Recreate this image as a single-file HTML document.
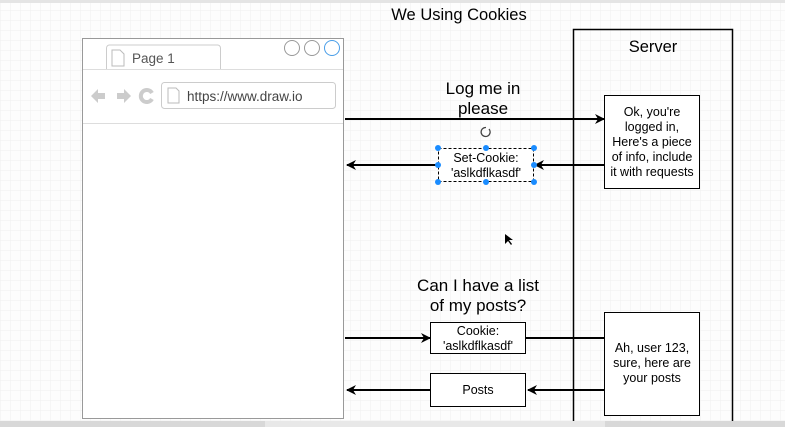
<!DOCTYPE html>
<html><head><meta charset="utf-8"><style>
html,body{margin:0;padding:0;background:#fff;}
svg{display:block;font-family:"Liberation Sans",sans-serif;}
</style></head><body>
<svg width="785" height="427" viewBox="0 0 785 427" xmlns="http://www.w3.org/2000/svg">
<defs>
<pattern id="g" width="10" height="10" patternUnits="userSpaceOnUse"><path d="M10 0H0V10" fill="none" stroke="#f0f0f0" stroke-width="1"/></pattern>
<marker id="a" markerWidth="10" markerHeight="10" refX="9" refY="5" orient="auto" markerUnits="userSpaceOnUse"><path d="M0 0L10 5L0 10L3 5Z" fill="#000"/></marker>
</defs>
<rect width="785" height="427" fill="#fdfdfd"/>
<rect width="785" height="427" fill="url(#g)"/>
<rect x="0" y="0" width="785" height="3" fill="#e4e4e4"/>
<text x="459" y="20" font-size="16.5" text-anchor="middle">We Using Cookies</text>
<rect x="82.5" y="38.5" width="261" height="380" fill="#fff" stroke="#999"/>
<path d="M106.5 69V48a3 3 0 0 1 3-3h108a3 3 0 0 1 3 3V69" fill="#fff" stroke="#ccc"/>
<line x1="83" y1="69.5" x2="343" y2="69.5" stroke="#ddd"/>
<line x1="83" y1="123.5" x2="343" y2="123.5" stroke="#ddd"/>
<path d="M112 50h8l4 4v12h-12z" fill="#fff" stroke="#bbb"/>
<text x="132" y="63" font-size="13.5" fill="#555">Page 1</text>
<circle cx="292" cy="48" r="7.5" fill="#fff" stroke="#999"/>
<circle cx="312" cy="48" r="7.5" fill="#fff" stroke="#999"/>
<circle cx="332" cy="48" r="7.5" fill="#fff" stroke="#4a9ee8"/>
<path d="M91 96l7-7v4h7v6h-7v4z" fill="#ccc"/>
<path d="M131 96l-7-7v4h-7v6h7v4z" fill="#ccc"/>
<path d="M152 93a6 6 0 1 0 0 6" fill="none" stroke="#ccc" stroke-width="4"/>
<rect x="161.5" y="82.5" width="174" height="26" rx="3" fill="#fff" stroke="#ccc"/>
<path d="M168 88h8l3 3v12h-11z" fill="#fff" stroke="#bbb"/>
<text x="187" y="101" font-size="13.5" fill="#444">https://www.draw.io</text>
<rect x="573.5" y="29.5" width="159" height="410" fill="none" stroke="#000" stroke-width="1.5"/>
<text x="653" y="52" font-size="16.5" text-anchor="middle">Server</text>
<text x="483" y="94" font-size="17" text-anchor="middle">Log me in</text>
<text x="483" y="114" font-size="17" text-anchor="middle">please</text>
<line x1="345" y1="119" x2="604" y2="119" stroke="#000" stroke-width="2" marker-end="url(#a)"/>
<rect x="604.5" y="95.5" width="95" height="93" fill="#fff" stroke="#000"/>
<g font-size="12.5" text-anchor="middle"><text x="652" y="116">Ok, you're</text><text x="652" y="131">logged in,</text><text x="652" y="146">Here's a piece</text><text x="652" y="161">of info, include</text><text x="652" y="176">it with requests</text></g>
<path d="M489 129a4.5 4.5 0 1 1-3-1.5" fill="none" stroke="#444" stroke-width="1.3"/>
<line x1="604" y1="165" x2="535" y2="165" stroke="#000" stroke-width="2" marker-end="url(#a)"/>
<line x1="437" y1="165" x2="347" y2="165" stroke="#000" stroke-width="2" marker-end="url(#a)"/>
<rect x="438.5" y="148.5" width="95" height="33" fill="#fff" stroke="#000" stroke-dasharray="3 2"/>
<g font-size="12.5" text-anchor="middle"><text x="486" y="162">Set-Cookie:</text><text x="486" y="177">'aslkdflkasdf'</text></g>
<g fill="#1a8cff"><circle cx="438" cy="148" r="3"/><circle cx="486" cy="148" r="3"/><circle cx="534" cy="148" r="3"/><circle cx="438" cy="165" r="3"/><circle cx="534" cy="165" r="3"/><circle cx="438" cy="182" r="3"/><circle cx="486" cy="182" r="3"/><circle cx="534" cy="182" r="3"/></g>
<path d="M505 234l0 10 3-3 3 4 1-1-3-4 4 0z" fill="#000"/>
<text x="478" y="291" font-size="17" text-anchor="middle">Can I have a list</text>
<text x="478" y="311" font-size="17" text-anchor="middle">of my posts?</text>
<line x1="345" y1="338" x2="430" y2="338" stroke="#000" stroke-width="2" marker-end="url(#a)"/>
<line x1="526" y1="338" x2="604" y2="338" stroke="#000" stroke-width="2"/>
<rect x="430.5" y="322.5" width="95" height="31" fill="#fff" stroke="#000"/>
<g font-size="12.5" text-anchor="middle"><text x="478" y="335">Cookie:</text><text x="478" y="350">'aslkdflkasdf'</text></g>
<rect x="604.5" y="312.5" width="95" height="103" fill="#fff" stroke="#000"/>
<g font-size="12.5" text-anchor="middle"><text x="652" y="352">Ah, user 123,</text><text x="652" y="367">sure, here are</text><text x="652" y="382">your posts</text></g>
<line x1="604" y1="390" x2="528" y2="390" stroke="#000" stroke-width="2" marker-end="url(#a)"/>
<line x1="430" y1="390" x2="347" y2="390" stroke="#000" stroke-width="2" marker-end="url(#a)"/>
<rect x="430.5" y="373.5" width="95" height="33" fill="#fff" stroke="#000"/>
<text x="478" y="394" font-size="12.5" text-anchor="middle">Posts</text>
<rect x="0" y="421" width="785" height="6" fill="#d8d8d8"/>
<rect x="265" y="421" width="340" height="6" fill="#e8e8e8"/>
</svg>
</body></html>
